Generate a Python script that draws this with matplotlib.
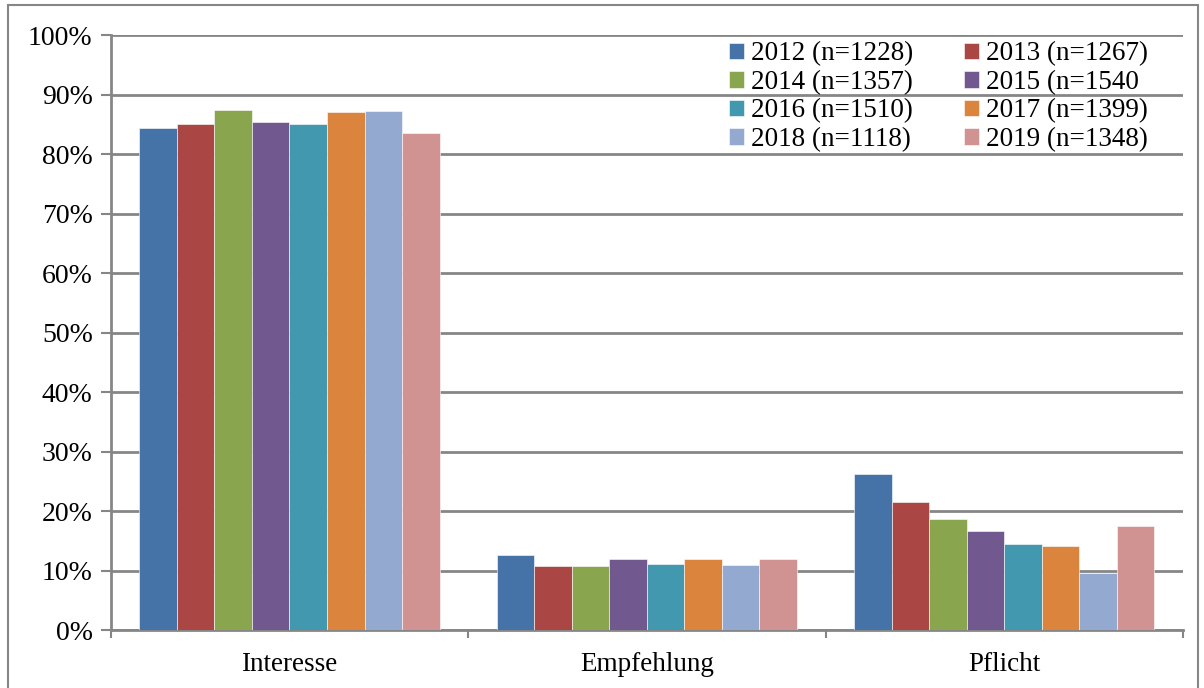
import numpy as np
import matplotlib.pyplot as plt
from matplotlib.patches import Rectangle

plt.rcParams['font.family'] = ['Liberation Serif', 'DejaVu Serif']

categories = ['Interesse', 'Empfehlung', 'Pflicht']
series = ['2012 (n=1228)', '2013 (n=1267)', '2014 (n=1357)', '2015 (n=1540',
          '2016 (n=1510)', '2017 (n=1399)', '2018 (n=1118)', '2019 (n=1348)']
values = [
    [84.4, 12.6, 26.3],
    [85.1, 10.8, 21.5],
    [87.4, 10.8, 18.7],
    [85.4, 11.9, 16.7],
    [85.0, 11.1, 14.5],
    [87.1, 12.0, 14.1],
    [87.3, 10.9, 9.5],
    [83.5, 12.0, 17.4],
]
colors = ['#4572A7', '#AA4643', '#89A54E', '#71588F',
          '#4198AF', '#DB843D', '#93A9CF', '#D19392']

fig = plt.figure(figsize=(12.04, 6.88), dpi=100)
ax = fig.add_axes([0.092, 0.0843, 0.8906, 0.8647])

x = np.arange(len(categories))
w = 0.105
bars = []
for i, (name, vals) in enumerate(zip(series, values)):
    b = ax.bar(x + (i - 3.5) * w, vals, w, color=colors[i], label=name,
               edgecolor='white', linewidth=0.4, zorder=3)
    bars.append(b)

ax.set_xlim(-0.5, 2.5)
ax.set_ylim(0, 100)
ax.set_yticks(np.arange(0, 101, 10))
ax.set_yticklabels([f'{v}%' for v in range(0, 101, 10)], fontsize=20)
ax.set_xticks(x)
ax.set_xticklabels(categories, fontsize=19.5)
ax.tick_params(axis='x', length=0, pad=16)
ax.set_xticks([-0.5, 0.5, 1.5, 2.5], minor=True)
ax.tick_params(axis='x', which='minor', length=6, width=1.5, color='#868686', direction='out')
ax.tick_params(axis='y', length=7, width=1.5, color='#868686', direction='out', pad=6)

ax.grid(axis='y', color='#868686', linewidth=2, zorder=0)
for s in ['top', 'right']:
    ax.spines[s].set_visible(False)
for s in ['left', 'bottom']:
    ax.spines[s].set_color('#868686')
    ax.spines[s].set_linewidth(2)

# row-wise legend order like Excel
order = [0, 2, 4, 6, 1, 3, 5, 7]
ax.legend([bars[k] for k in order], [series[k] for k in order],
          loc='upper right', ncol=2, frameon=False, fontsize=19.5,
          handlelength=0.55, handleheight=0.55, handletextpad=0.25,
          columnspacing=1.9, labelspacing=0.13, borderpad=0,
          bbox_to_anchor=(0.98, 1.012))

fig.add_artist(Rectangle((8 / 1204, -0.01), 1190 / 1204, 1 - 5 / 688 + 0.01,
                         transform=fig.transFigure, fill=False,
                         edgecolor='#868686', linewidth=1.5))

fig.savefig('out.png', dpi=100)
